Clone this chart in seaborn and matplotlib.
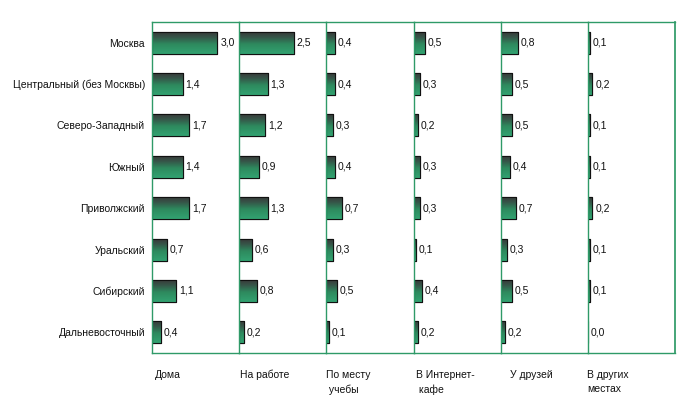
import numpy as np
import pandas as pd
import matplotlib
matplotlib.use("Agg")
import matplotlib.pyplot as plt
from matplotlib.colors import LinearSegmentedColormap
import seaborn as sns

regions = ["Москва", "Центральный (без Москвы)", "Северо-Западный", "Южный",
           "Приволжский", "Уральский", "Сибирский", "Дальневосточный"]
places = ["Дома", "На работе", "По месту\n учебы", "В Интернет-\n кафе", "У друзей", "В других\nместах"]
home = [3.0, 1.4, 1.7, 1.4, 1.7, 0.7, 1.1, 0.4]
work = [2.5, 1.3, 1.2, 0.9, 1.3, 0.6, 0.8, 0.2]
study = [0.4, 0.4, 0.3, 0.4, 0.7, 0.3, 0.5, 0.1]
cafe = [0.5, 0.3, 0.2, 0.3, 0.3, 0.1, 0.4, 0.2]
friends = [0.8, 0.5, 0.5, 0.4, 0.7, 0.3, 0.5, 0.2]
other = [0.1, 0.2, 0.1, 0.1, 0.2, 0.1, 0.1, 0.0]
series = [home, work, study, cafe, friends, other]

sns.set_theme(style="white")
plt.rcParams["font.family"] = ["Liberation Sans", "DejaVu Sans"]

W, H = 685, 415
fig = plt.figure(figsize=(W / 100, H / 100), dpi=100)
green = "#2f9a68"
cmap = LinearSegmentedColormap.from_list(
    "g", [(0, "#3a3a3a"), (0.25, "#35584a"), (0.55, "#2e8a5e"), (1, "#32a271")])
grad = np.linspace(0, 1, 64).reshape(-1, 1)

left0, colw = 152, 87.2
top, bottom = 22, 353
label_dx = [3, 1, 0, 2, 9, -1]
for i, (label, vals) in enumerate(zip(places, series)):
    ax = fig.add_axes([(left0 + i * colw) / W, (H - bottom) / H, colw / W, (bottom - top) / H])
    df = pd.DataFrame({"region": regions, "value": vals})
    sns.barplot(data=df, y="region", x="value", orient="h", ax=ax, width=0.53,
                color=green, edgecolor="#111111", linewidth=0.8, saturation=1)
    ax.set_xlim(0, 4.0)
    ax.set_ylim(7.5, -0.5)
    for p in ax.patches:
        x0, y0 = p.get_x(), p.get_y()
        w, h = p.get_width(), p.get_height()
        if w <= 0:
            continue
        im = ax.imshow(grad, cmap=cmap, aspect="auto", extent=[x0, x0 + w, y0 + h, y0],
                       zorder=p.get_zorder() + 0.1, interpolation="bilinear")
        im.set_clip_path(p)
        ax.add_patch(plt.Rectangle((x0, y0), w, h, fill=False, edgecolor="#111111",
                                   linewidth=0.8, zorder=p.get_zorder() + 0.2))
    for j, v in enumerate(vals):
        ax.annotate(f"{v:.1f}".replace(".", ","), (v, j), xytext=(2, 0),
                    textcoords="offset points", va="center", ha="left", fontsize=7.5,
                    color="#111111")
    ax.set_xlabel("")
    ax.set_ylabel("")
    ax.set_xticks([])
    for s in ["left", "right", "top", "bottom"]:
        ax.spines[s].set_visible(False)
    for s in ["left", "top", "bottom"]:
        ax.spines[s].set_visible(True)
        ax.spines[s].set_color(green)
        ax.spines[s].set_linewidth(1.0)
    if i == len(places) - 1:
        ax.spines["right"].set_visible(True)
        ax.spines["right"].set_color(green)
    if i == 0:
        ax.tick_params(axis="y", length=0, pad=5, labelsize=7.5, labelcolor="#111111")
    else:
        ax.set_yticks([])
    fig.text((left0 + i * colw + label_dx[i]) / W, 1 - 370 / H, label, ha="left", va="top",
             fontsize=7.5, color="#111111", linespacing=1.5)

fig.savefig("out.png", dpi=100)
